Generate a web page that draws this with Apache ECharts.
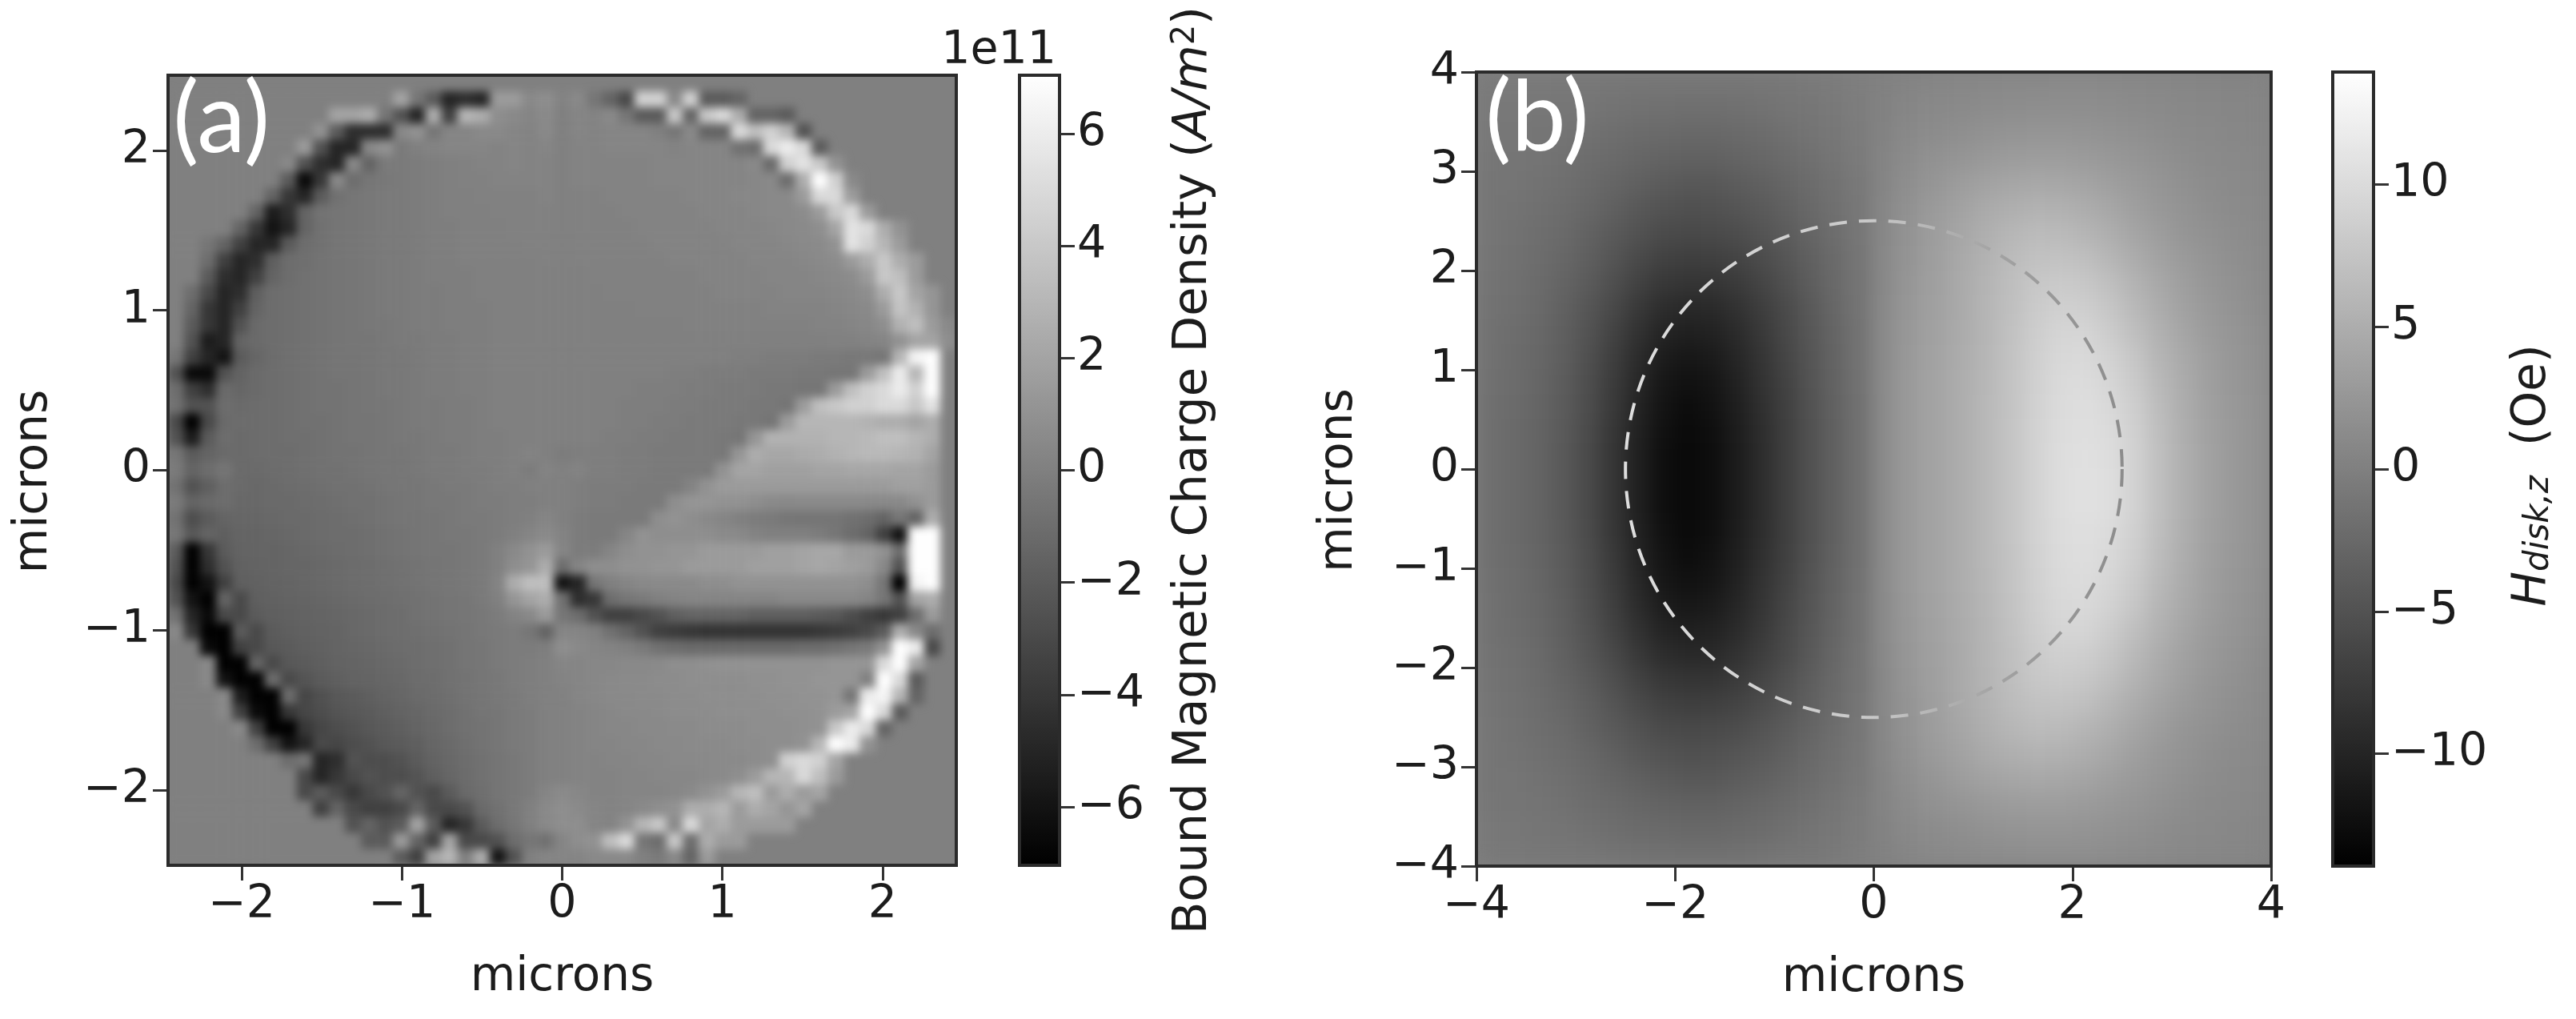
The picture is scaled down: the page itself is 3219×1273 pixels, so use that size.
<!DOCTYPE html>
<html>
<head>
<meta charset="utf-8">
<script src="https://cdn.jsdelivr.net/npm/echarts@6/dist/echarts.min.js"></script>
<style>
  html, body { margin: 0; background: #fff; }
  #page { position: relative; width: 3219px; height: 1273px; overflow: hidden; }
  .plot { position: absolute; overflow: hidden; background: #808080; }
  .plot > div { width: 100%; height: 100%; }
  #plotA { left: 210px; top: 94px; width: 985px; height: 987px; }
  #plotA > div { filter: blur(5.5px); }
  #plotB { left: 1845px; top: 90px; width: 993px; height: 992px; }
  #plotB > div { filter: blur(11px); }
  #overlay { position: absolute; left: 0; top: 0; width: 3219px; height: 1273px; filter: blur(0.7px); }
</style>
</head>
<body>
<div id="page">
  <div class="plot" id="plotA"><div id="heatA"></div></div>
  <div class="plot" id="plotB"><div id="heatB"></div></div>
  <div id="overlay"></div>
</div>
<script>
// panel (a): charge density, in 1e10 A/m2, row 0 at the top, cells 0.1 micron
const rowsA = [
[],
[0,0,0,0,0,0,0,0,0,0,0,0,0,0,20,-5,-20,-50,-45,-50,15,15,5,8,2,5,-5,-15,-30,45,45,5,45,-20,-20,-15],
[0,0,0,0,0,0,0,0,0,0,20,20,25,-5,-25,-50,25,-35,30,25,8,5,3,6,0,3,2,5,-5,-20,-20,40,-15,40,50,25,-15,-15,-20],
[0,0,0,0,0,0,0,0,0,10,-20,-45,-45,-45,5,10,-5,3,3,5,5,3,2,5,0,3,2,3,3,3,0,-5,5,-15,-15,50,35,45,30,-25],
[0,0,0,0,0,0,0,0,15,-25,-50,-50,5,10,-3,0,2,3,3,3,2,3,2,3,0,2,2,3,3,3,3,2,3,3,3,-8,-10,50,60,50,-20],
[0,0,0,0,0,0,0,5,-25,-45,-50,5,-15,-3,-3,-2,-1,0,1,2,2,3,2,2,0,2,2,2,2,2,3,3,3,3,3,3,5,-12,45,55,40,10],
[0,0,0,0,0,0,0,-20,-65,-40,5,-10,-5,-4,-3,-2,-1,0,1,1,2,2,2,2,0,2,2,2,2,2,3,3,3,3,3,3,4,5,-10,25,70,45,5],
[0,0,0,0,0,0,-15,-40,-50,-20,-8,-5,-4,-3,-3,-2,-1,0,0,1,1,1,1,2,0,1,1,2,2,2,2,2,3,3,3,4,4,5,5,15,50,50,15],
[0,0,0,0,0,-15,-55,-45,-15,-7,-6,-5,-4,-3,-3,-2,-1,0,0,0,1,1,1,1,0,1,1,1,2,2,2,2,2,3,3,3,4,5,5,7,15,40,50,15],
[0,0,0,0,-15,-40,-60,-50,-15,-8,-6,-5,-4,-3,-3,-2,-1,-1,0,0,0,1,1,1,0,1,1,1,1,2,2,2,2,2,3,3,3,4,5,6,8,20,55,50,25,10],
[0,0,-5,-15,-35,-50,-50,-20,-10,-8,-6,-5,-4,-3,-3,-2,-1,-1,0,0,0,0,1,1,0,1,1,1,1,1,2,2,2,2,2,3,3,3,4,5,6,10,55,45,30,15],
[0,0,-10,-35,-50,-45,-18,-10,-9,-7,-6,-5,-4,-3,-3,-2,-1,-1,0,0,0,0,0,1,0,1,1,1,1,1,1,2,2,2,2,2,3,3,3,4,5,7,15,25,40,25,15],
[0,0,-20,-45,-50,-35,-15,-10,-8,-7,-6,-5,-4,-3,-3,-2,-1,-1,-1,0,0,0,0,0,0,0,1,1,1,1,1,1,1,2,2,2,2,3,3,3,4,5,7,15,40,35,15],
[0,-10,-30,-50,-45,-18,-10,-9,-8,-7,-6,-5,-4,-3,-3,-2,-2,-1,-1,0,0,0,0,0,0,0,0,1,1,1,1,1,1,1,2,2,2,2,3,3,3,4,5,8,25,40,20,12],
[0,-15,-40,-50,-35,-15,-10,-9,-8,-7,-6,-5,-4,-3,-3,-2,-2,-1,-1,-1,0,0,0,0,0,0,0,0,0,1,1,1,1,1,1,1,1,2,2,2,2,3,4,5,15,38,28,12],
[0,-20,-40,-50,-25,-12,-10,-9,-8,-7,-6,-5,-4,-4,-3,-2,-2,-1,-1,-1,0,0,0,0,0,0,0,0,0,0,0,0,1,1,1,1,1,1,1,1,2,2,3,4,8,28,35,15,5],
[0,-25,-55,-50,-15,-12,-10,-9,-8,-7,-6,-5,-5,-4,-3,-3,-2,-2,-1,-1,0,0,0,0,0,0,0,0,0,0,0,0,0,0,0,0,0,0,0,0,0,1,1,2,3,10,20,20,8],
[-5,-35,-50,-60,-20,-14,-11,-9,-8,-7,-6,-6,-5,-4,-4,-3,-2,-2,-1,-1,0,0,0,0,0,0,0,0,0,0,0,0,0,0,0,-1,-1,-2,-2,-2,-3,-3,-4,-4,-5,30,65,70],
[-25,-65,-65,-25,-16,-12,-10,-9,-8,-7,-6,-6,-5,-4,-4,-3,-2,-2,-1,-1,0,0,0,0,0,0,0,0,0,0,0,-1,-1,-2,-2,-2,-3,-3,-3,-4,-4,-5,-5,15,35,60,30,70],
[-10,-35,-45,-12,-14,-12,-10,-9,-8,-7,-7,-6,-5,-4,-4,-3,-2,-2,-1,-1,0,0,0,0,0,0,0,0,0,-1,-1,-1,-2,-2,-3,-3,-3,-4,-4,-5,-5,15,35,45,50,60,45,70],
[-8,-25,-25,-10,-12,-11,-10,-9,-8,-7,-7,-6,-5,-5,-4,-3,-3,-2,-2,-1,0,0,0,0,0,0,0,0,-1,-1,-1,-2,-2,-3,-3,-3,-4,-4,-6,15,35,40,45,45,50,50,40,55],
[-30,-70,-30,-12,-11,-11,-10,-9,-8,-8,-7,-6,-6,-5,-4,-3,-3,-2,-2,-1,0,0,0,0,0,0,0,0,-1,-1,-2,-2,-3,-3,-3,-4,-4,-6,15,30,30,30,30,28,25,25,20,25],
[-25,-55,-20,-10,-12,-11,-10,-9,-9,-8,-7,-6,-6,-5,-4,-4,-3,-2,-2,-1,-1,0,0,0,0,0,0,-1,-1,-2,-2,-3,-3,-3,-4,-5,12,28,28,28,28,30,30,32,35,35,30,25],
[-5,-20,-15,-12,-12,-11,-10,-10,-9,-8,-7,-7,-6,-5,-5,-4,-3,-3,-2,-1,-1,0,2,0,-2,-1,-1,-1,-2,-2,-3,-3,-3,-3,-4,12,25,22,22,24,25,28,30,32,32,30,28,20],
[-3,-15,-10,-6,-12,-12,-11,-10,-9,-8,-8,-7,-6,-5,-5,-4,-3,-3,-2,-2,-1,0,-2,2,0,2,-1,-1,-2,-2,-3,-3,-3,-3,10,20,20,18,18,18,20,20,22,22,22,20,20,15],
[-8,-25,-18,-10,-12,-13,-12,-11,-10,-9,-8,-8,-7,-6,-5,-5,-4,-3,-3,-2,-1,-1,0,0,0,-1,-2,-2,-2,-3,-3,-3,2,10,15,15,15,15,15,15,15,15,15,15,15,18,18,15],
[-3,-15,-12,-10,-13,-13,-12,-12,-11,-10,-9,-8,-8,-7,-6,-5,-4,-4,-3,-2,-2,-1,-1,0,0,-1,-2,-2,-3,-3,-3,8,12,12,10,10,8,6,5,6,6,6,6,5,5,5,10,15],
[-8,-28,-20,-15,-14,-14,-13,-12,-12,-11,-10,-9,-8,-7,-6,-6,-5,-4,-3,-3,-2,-1,0,3,0,-2,-3,-3,-3,-3,8,10,8,5,3,0,-2,-3,-5,-6,-6,-6,-8,-10,-15,-5,-15,25],
[-5,-22,-15,-18,-15,-15,-14,-13,-12,-11,-10,-10,-9,-8,-7,-6,-5,-4,-4,-3,-2,0,3,6,2,-2,-3,-3,3,10,8,8,8,8,6,5,2,0,0,0,-2,-5,-10,-15,-35,-60,70,70],
[-20,-70,-40,-20,-16,-15,-15,-14,-13,-12,-11,-10,-9,-8,-7,-6,-5,-5,-4,-3,0,5,10,15,3,-2,-2,3,8,10,10,12,12,15,15,15,15,18,18,20,22,22,15,15,10,-10,70,70],
[-25,-70,-45,-25,-17,-16,-15,-14,-14,-13,-12,-11,-10,-9,-8,-7,-6,-5,-4,-3,0,8,12,25,-10,3,8,8,10,10,12,12,15,15,15,15,18,18,18,20,22,20,18,15,5,-25,70,70],
[-30,-70,-60,-35,-18,-17,-16,-15,-14,-13,-12,-11,-10,-9,-8,-7,-6,-5,-4,-3,2,25,35,35,-60,-50,-5,0,3,5,6,6,6,8,8,10,10,10,10,10,10,10,10,8,-5,-70,65,70],
[-25,-60,-70,-15,-30,-18,-17,-16,-15,-14,-13,-12,-11,-10,-9,-8,-7,-6,-5,-3,0,12,20,25,-8,-45,-40,-10,-5,-3,0,2,3,3,3,3,3,3,5,5,5,5,5,3,-5,-25,20,25],
[-8,-50,-65,-30,-30,-20,-18,-17,-16,-15,-14,-13,-12,-11,-10,-8,-7,-6,-5,-4,-2,2,5,15,-5,-10,-25,-35,-35,-30,-25,-18,-15,-15,-15,-15,-18,-18,-18,-18,-20,-22,-28,-35,-40,-35,-10,15],
[5,-40,-70,-70,-20,-30,-20,-18,-17,-16,-15,-13,-12,-11,-10,-9,-8,-7,-6,-4,-3,-2,-5,-15,3,3,0,-8,-15,-25,-35,-38,-40,-42,-42,-42,-42,-42,-42,-42,-40,-38,-35,-30,-20,25,5,-10],
[0,0,-65,-70,-35,-30,-22,-20,-18,-17,-15,-14,-13,-12,-11,-10,-9,-8,-6,-5,-3,-2,-2,-1,8,5,3,2,0,-3,-8,-10,-12,-12,-12,-12,-12,-12,-12,-10,-10,-8,-5,-3,10,70,60,-30],
[0,0,5,-70,-70,-15,-30,-22,-20,-18,-16,-15,-14,-13,-12,-10,-9,-8,-6,-5,-3,-2,-1,0,3,3,4,4,5,5,6,8,8,9,10,10,10,10,10,10,10,12,12,12,50,70,20],
[0,0,5,-60,-70,-70,-10,-30,-24,-20,-18,-16,-15,-14,-13,-11,-10,-8,-7,-5,-4,-2,-1,0,2,3,4,5,6,6,7,7,8,8,8,8,9,9,10,10,12,12,12,0,70,50,-20],
[0,0,0,5,-55,-70,-70,-10,-32,-26,-22,-20,-18,-16,-14,-12,-11,-9,-7,-6,-4,-3,-1,0,1,3,4,5,5,6,6,7,7,8,8,8,8,9,9,10,10,12,-5,60,65,30,-15],
[0,0,0,5,-35,-65,-70,-40,-32,-28,-24,-22,-20,-18,-16,-14,-12,-10,-8,-6,-5,-3,-2,0,1,2,3,4,5,5,6,7,7,7,8,8,8,8,9,9,10,15,20,70,50,-20],
[0,0,0,0,5,-35,-70,-70,-40,-32,-28,-25,-22,-20,-18,-15,-13,-10,-8,-7,-5,-3,-2,0,1,2,3,4,4,5,5,6,6,7,7,7,8,8,8,9,10,40,60,50,-15],
[0,0,0,0,0,-10,-35,-60,-50,-30,-32,-28,-25,-22,-20,-18,-14,-12,-9,-7,-5,-3,-2,0,1,2,3,3,4,4,5,5,6,6,6,7,7,8,8,10,30,70,60,10],
[0,0,0,0,0,0,0,-10,-5,-50,-45,-25,-28,-28,-25,-20,-16,-13,-10,-8,-6,-4,-2,0,1,2,2,3,3,4,4,5,5,5,6,6,7,8,45,50,45,20],
[0,0,0,0,0,0,0,0,-30,-50,-40,-30,-25,-28,-28,-24,-18,-14,-11,-8,-6,-4,-2,0,1,2,2,2,3,3,4,4,4,5,6,8,15,30,30,50,35,15],
[0,0,0,0,0,0,0,0,-30,-20,-30,-40,-30,-25,-15,-25,-30,-20,-12,-9,-6,-4,-2,3,6,4,2,2,3,3,3,4,6,10,15,30,35,15,25,15,20],
[0,0,0,0,0,0,0,0,0,-35,-15,-30,-35,-35,-30,-15,-30,-30,-25,-12,-8,-4,0,5,8,6,3,2,3,5,8,10,25,25,30,15,25,20,12,20],
[0,0,0,0,0,0,0,0,0,0,0,-25,-15,-25,-20,20,-20,-50,-40,-20,-10,-5,0,5,8,8,3,2,10,30,40,5,50,20,25,15,15,15,15],
[0,0,0,0,0,0,0,0,0,0,0,0,-20,-20,15,-15,-35,20,-30,-30,-25,-10,-5,-8,3,8,10,35,50,-5,-10,40,-10,25,15,15],
[0,0,0,0,0,0,0,0,0,0,0,0,0,0,-20,-35,20,30,0,25,-60,-25,0,3,3,3,5,5,5,0,-3,5,-15,15]
];
const limitA = 70.4;

// panel (b): disk field in Oe, row 0 at the top, cells 0.25 micron
const rowsB = [
[-.6,-.6,-.7,-.8,-.9,-1,-1.1,-1.2,-1.2,-1.2,-1.1,-1,-.9,-.7,-.5,-.2,.2,.5,.7,.8,.9,1,1,1.1,1.1,1,.9,.8,.7,.6,.5,.5],
[-.7,-.8,-.9,-1,-1.2,-1.4,-1.6,-1.7,-1.8,-1.8,-1.7,-1.5,-1.2,-1,-.7,-.3,.3,.7,1,1.2,1.4,1.5,1.6,1.6,1.6,1.5,1.3,1.1,.9,.8,.7,.6],
[-.8,-.9,-1.1,-1.3,-1.6,-1.9,-2.2,-2.4,-2.6,-2.6,-2.4,-2.1,-1.7,-1.3,-.9,-.4,.4,1,1.4,1.7,2,2.2,2.3,2.3,2.2,2,1.8,1.5,1.2,1,.8,.7],
[-1,-1.1,-1.3,-1.6,-2,-2.4,-2.8,-3.1,-3.3,-3.3,-3,-2.7,-2.2,-1.7,-1.2,-.5,.6,1.4,2,2.4,2.8,3.1,3.2,3.2,3,2.7,2.3,1.9,1.5,1.2,1,.8],
[-1.1,-1.2,-1.5,-1.8,-2.3,-2.9,-3.5,-4,-4.3,-4.3,-3.9,-3.4,-2.8,-2.1,-1.5,-.7,.7,1.7,2.5,3.2,3.8,4.2,4.4,4.3,4,3.5,2.9,2.3,1.8,1.4,1.1,.9],
[-1.2,-1.4,-1.7,-2.1,-2.7,-3.5,-4.3,-4.9,-5.2,-5.1,-4.7,-4.1,-3.3,-2.5,-1.7,-.8,.9,2,3,3.8,4.6,5.2,5.5,5.4,5,4.3,3.5,2.7,2.1,1.6,1.3,1],
[-1.2,-1.5,-1.9,-2.4,-3.2,-4.1,-5,-5.7,-6,-5.9,-5.5,-4.8,-3.9,-2.9,-1.9,-.9,1,2.2,3.3,4.2,5.2,6,6.5,6.4,5.9,5.1,4.1,3.2,2.4,1.9,1.5,1.2],
[-1.3,-1.6,-2,-2.7,-3.6,-4.7,-5.9,-6.7,-7.1,-7,-6.5,-5.6,-4.5,-3.3,-2.2,-1,1.1,2.4,3.5,4.5,5.5,6.5,7.2,7.3,6.9,6,4.9,3.8,2.9,2.2,1.7,1.3],
[-1.4,-1.7,-2.2,-3,-4,-5.3,-6.7,-7.8,-8.2,-8.1,-7.5,-6.4,-5.1,-3.7,-2.4,-1.1,1.2,2.6,3.6,4.6,5.7,6.8,7.8,8.1,7.8,6.9,5.6,4.4,3.3,2.5,1.9,1.4],
[-1.5,-1.8,-2.4,-3.3,-4.5,-6,-7.7,-9,-9.5,-9.3,-8.5,-7.2,-5.7,-4.1,-2.6,-1.2,1.3,2.7,3.7,4.7,5.8,7,8.2,8.8,8.6,7.7,6.3,4.9,3.7,2.8,2.1,1.5],
[-1.6,-2,-2.6,-3.6,-4.9,-6.6,-8.5,-10,-10.5,-10.2,-9.2,-7.7,-6,-4.3,-2.8,-1.3,1.4,2.8,3.8,4.8,5.9,7.2,8.5,9.3,9.3,8.4,7,5.4,4.1,3,2.3,1.7],
[-1.6,-2.1,-2.7,-3.7,-5.2,-7.1,-9.1,-10.8,-11.4,-11,-9.8,-8.1,-6.3,-4.5,-2.9,-1.3,1.4,2.9,3.9,4.9,6,7.3,8.7,9.7,9.8,9,7.7,5.9,4.5,3.3,2.5,1.8],
[-1.7,-2.1,-2.8,-3.9,-5.4,-7.4,-9.6,-11.4,-12.1,-11.6,-10.2,-8.4,-6.6,-4.7,-3,-1.4,1.5,3,4,5,6.1,7.4,8.8,9.9,10.1,9.5,8.2,6.3,4.8,3.5,2.6,1.9],
[-1.8,-2.2,-2.9,-4,-5.5,-7.6,-10,-11.8,-12.6,-12,-10.6,-8.7,-6.8,-4.9,-3.1,-1.5,1.5,3,4,5,6.2,7.4,8.9,10,10.3,9.8,8.6,6.6,5,3.6,2.7,2],
[-1.8,-2.3,-3,-4.1,-5.7,-7.9,-10.2,-12.1,-12.9,-12.3,-10.8,-8.9,-6.9,-5,-3.2,-1.5,1.5,3,4,5,6.2,7.5,9,10.1,10.5,10,8.8,6.8,5.1,3.7,2.8,2],
[-1.8,-2.3,-3,-4.2,-5.8,-8,-10.4,-12.3,-13,-12.4,-10.9,-9,-7,-5,-3.2,-1.5,1.5,3,4,5,6.2,7.5,9,10.2,10.6,10.2,9,7,5.2,3.8,2.8,2],
[-1.8,-2.3,-3,-4.2,-5.8,-8,-10.4,-12.3,-13,-12.4,-10.9,-9,-7,-5,-3.2,-1.5,1.5,3,4,5,6.2,7.5,9,10.2,10.7,10.3,9,7,5.2,3.8,2.8,2],
[-1.8,-2.3,-3,-4.2,-5.8,-8,-10.4,-12.3,-13,-12.4,-10.9,-9,-7,-5,-3.2,-1.5,1.5,3,4,5,6.2,7.5,9,10.2,10.7,10.3,9,7,5.2,3.8,2.8,2],
[-1.8,-2.3,-3,-4.1,-5.7,-7.9,-10.2,-12.1,-12.9,-12.3,-10.8,-8.9,-6.9,-5,-3.2,-1.5,1.5,3,4,5,6.2,7.5,9,10.1,10.5,10,8.8,6.8,5.1,3.7,2.8,2],
[-1.8,-2.2,-2.9,-4,-5.5,-7.6,-10,-11.8,-12.6,-12,-10.6,-8.7,-6.8,-4.9,-3.1,-1.5,1.5,3,4,5,6.2,7.4,8.9,10,10.3,9.8,8.6,6.6,5,3.6,2.7,2],
[-1.7,-2.1,-2.8,-3.9,-5.4,-7.4,-9.6,-11.4,-12.1,-11.6,-10.2,-8.4,-6.6,-4.7,-3,-1.4,1.5,3,4,5,6.1,7.4,8.8,9.9,10.1,9.5,8.2,6.3,4.8,3.5,2.6,1.9],
[-1.6,-2.1,-2.7,-3.7,-5.2,-7.1,-9.1,-10.8,-11.4,-11,-9.8,-8.1,-6.3,-4.5,-2.9,-1.3,1.4,2.9,3.9,4.9,6,7.3,8.7,9.7,9.8,9,7.7,5.9,4.5,3.3,2.5,1.8],
[-1.6,-2,-2.6,-3.6,-4.9,-6.6,-8.5,-10,-10.5,-10.2,-9.2,-7.7,-6,-4.3,-2.8,-1.3,1.4,2.8,3.8,4.8,5.9,7.2,8.5,9.3,9.3,8.4,7,5.4,4.1,3,2.3,1.7],
[-1.5,-1.8,-2.4,-3.3,-4.5,-6,-7.7,-9,-9.5,-9.3,-8.5,-7.2,-5.7,-4.1,-2.6,-1.2,1.3,2.7,3.7,4.7,5.8,7,8.2,8.8,8.6,7.7,6.3,4.9,3.7,2.8,2.1,1.5],
[-1.4,-1.7,-2.2,-3,-4,-5.3,-6.7,-7.8,-8.2,-8.1,-7.5,-6.4,-5.1,-3.7,-2.4,-1.1,1.2,2.6,3.6,4.6,5.7,6.8,7.8,8.1,7.8,6.9,5.6,4.4,3.3,2.5,1.9,1.4],
[-1.3,-1.6,-2,-2.7,-3.6,-4.7,-5.9,-6.7,-7.1,-7,-6.5,-5.6,-4.5,-3.3,-2.2,-1,1.1,2.4,3.5,4.5,5.5,6.5,7.2,7.3,6.9,6,4.9,3.8,2.9,2.2,1.7,1.3],
[-1.2,-1.5,-1.9,-2.4,-3.2,-4.1,-5,-5.7,-6,-5.9,-5.5,-4.8,-3.9,-2.9,-1.9,-.9,1,2.2,3.3,4.2,5.2,6,6.5,6.4,5.9,5.1,4.1,3.2,2.4,1.9,1.5,1.2],
[-1.2,-1.4,-1.7,-2.1,-2.7,-3.5,-4.3,-4.9,-5.2,-5.1,-4.7,-4.1,-3.3,-2.5,-1.7,-.8,.9,2,3,3.8,4.6,5.2,5.5,5.4,5,4.3,3.5,2.7,2.1,1.6,1.3,1],
[-1.1,-1.2,-1.5,-1.8,-2.3,-2.9,-3.5,-4,-4.3,-4.3,-3.9,-3.4,-2.8,-2.1,-1.5,-.7,.7,1.7,2.5,3.2,3.8,4.2,4.4,4.3,4,3.5,2.9,2.3,1.8,1.4,1.1,.9],
[-1,-1.1,-1.3,-1.6,-2,-2.4,-2.8,-3.1,-3.3,-3.3,-3,-2.7,-2.2,-1.7,-1.2,-.5,.6,1.4,2,2.4,2.8,3.1,3.2,3.2,3,2.7,2.3,1.9,1.5,1.2,1,.8],
[-.8,-.9,-1.1,-1.3,-1.6,-1.9,-2.2,-2.4,-2.6,-2.6,-2.4,-2.1,-1.7,-1.3,-.9,-.4,.4,1,1.4,1.7,2,2.2,2.3,2.3,2.2,2,1.8,1.5,1.2,1,.8,.7],
[-.7,-.8,-.9,-1,-1.2,-1.4,-1.6,-1.7,-1.8,-1.8,-1.7,-1.5,-1.2,-1,-.7,-.3,.3,.7,1,1.2,1.4,1.5,1.6,1.6,1.6,1.5,1.3,1.1,.9,.8,.7,.6]
];
const limitB = 13.95;

const ticksXA = [-2, -1, 0, 1, 2];
const ticksYA = [-2, -1, 0, 1, 2];
const ticksCbarA = [-6, -4, -2, 0, 2, 4, 6];
const ticksXB = [-4, -2, 0, 2, 4];
const ticksYB = [-4, -3, -2, -1, 0, 1, 2, 3, 4];
const ticksCbarB = [-10, -5, 0, 5, 10];
const diskB = [[0, 0, 2.5]]; // dashed outline of the disk: x, y, radius

const FONT = '"DejaVu Sans"';
const INK = '#1c1c1c';
const minus = v => String(v).replace('-', '\u2212');

// one gray heatmap filling its blurred div, category axes stay hidden
function drawHeat(id, rows, limit, cols) {
  const data = [];
  rows.forEach((row, j) => row.forEach((v, i) => data.push([i, j, v])));
  const axis = n => ({
    type: 'category', show: false,
    data: Array.from({ length: n }, (_, k) => k)
  });
  const chart = echarts.init(document.getElementById(id));
  chart.setOption({
    animation: false,
    grid: { left: 0, right: 0, top: 0, bottom: 0 },
    xAxis: axis(cols),
    yAxis: Object.assign(axis(rows.length), { inverse: true }),
    visualMap: { show: false, min: -limit, max: limit, inRange: { color: ['#000000', '#ffffff'] } },
    series: [{ type: 'heatmap', data: data, progressive: 0 }]
  });
}
drawHeat('heatA', rowsA, limitA, 49);
drawHeat('heatB', rowsB, limitB, 32);

function valueAxis(gridIndex, range, ticks, name, extra, labelPad) {
  return Object.assign({
    type: 'value', gridIndex: gridIndex, min: -range, max: range,
    splitLine: { show: false },
    axisLine: { show: false, onZero: false },
    axisTick: { length: 19, lineStyle: { color: '#333', width: 3 }, customValues: ticks },
    axisLabel: {
      fontFamily: FONT, fontSize: 57, color: INK, margin: 22, formatter: minus,
      customValues: ticks, padding: labelPad || 0
    },
    name: name, nameLocation: 'middle',
    nameTextStyle: { fontFamily: FONT, fontSize: 58, color: INK }
  }, extra);
}
const hiddenX = (gridIndex) => ({ type: 'value', gridIndex: gridIndex, min: 0, max: 1, show: false });
const frame = { show: true, z: 10, backgroundColor: 'transparent', borderColor: '#2b2b2b', borderWidth: 4 };
const cbarMap = (limit, left, top, w, h, seriesIndex) => ({
  type: 'continuous', min: -limit, max: limit, seriesIndex: seriesIndex, calculable: false,
  left: left, top: top, itemWidth: w, itemHeight: h, padding: 0, hoverLink: false,
  inRange: { color: ['#000000', '#ffffff'] }
});
const yPad = [16, 0, 0, 0];
// rotated side label, pushed a little below the middle of its axis
const sideName = { fontFamily: FONT, fontSize: 58, color: INK, padding: [0, 28, 0, 0] };

const overlay = echarts.init(document.getElementById('overlay'));
overlay.setOption({
  animation: false,
  grid: [
    Object.assign({ left: 210, top: 94, width: 985, height: 987 }, frame),
    Object.assign({ left: 1274, top: 94, width: 50, height: 987 }, frame),
    Object.assign({ left: 1845, top: 90, width: 993, height: 992 }, frame),
    Object.assign({ left: 2915, top: 90, width: 51, height: 992 }, frame)
  ],
  xAxis: [
    valueAxis(0, 2.46, ticksXA, 'microns', { nameGap: 112 }),
    hiddenX(1),
    valueAxis(2, 4, ticksXB, 'microns', { nameGap: 112 }),
    hiddenX(3)
  ],
  yAxis: [
    valueAxis(0, 2.47, ticksYA, 'microns', { nameGap: 138, nameRotate: 90, nameTextStyle: sideName }, yPad),
    valueAxis(1, 7.04, ticksCbarA, '{t|Bound Magnetic Charge Density (}{i|A/m}{s|2}{t|)}', {
      position: 'right', nameGap: 138, nameRotate: 90,
      nameTextStyle: {
        rich: {
          t: { fontFamily: FONT, fontSize: 59, color: INK },
          i: { fontFamily: FONT, fontSize: 59, fontStyle: 'italic', color: INK },
          s: { fontFamily: FONT, fontSize: 40, color: INK, verticalAlign: 'top' }
        }
      }
    }, yPad),
    valueAxis(2, 4, ticksYB, 'microns', { nameGap: 142, nameRotate: 90, nameTextStyle: sideName }, yPad),
    valueAxis(3, 13.95, ticksCbarB, '{i|H}{b|disk,z}{t|  (Oe)}', {
      position: 'right', nameGap: 170, nameRotate: 90,
      nameTextStyle: {
        padding: [0, 16, 0, 0],
        rich: {
          t: { fontFamily: FONT, fontSize: 58, color: INK },
          i: { fontFamily: FONT, fontSize: 58, fontStyle: 'italic', color: INK },
          b: { fontFamily: FONT, fontSize: 42, fontStyle: 'italic', color: INK, verticalAlign: 'bottom' }
        }
      }
    }, yPad)
  ],
  visualMap: [
    cbarMap(7.04, 1274, 94, 50, 987, 0),
    cbarMap(13.95, 2915, 90, 51, 992, 1)
  ],
  series: [
    { type: 'scatter', xAxisIndex: 1, yAxisIndex: 1, data: [] },
    { type: 'scatter', xAxisIndex: 3, yAxisIndex: 3, data: [] },
    {
      type: 'custom', xAxisIndex: 2, yAxisIndex: 2, data: diskB, silent: true, z: 5,
      renderItem: (params, api) => {
        const c = api.coord([api.value(0), api.value(1)]);
        return {
          type: 'circle',
          shape: { cx: c[0], cy: c[1], r: api.size([api.value(2), 0])[0] },
          style: {
            fill: 'none', lineWidth: 4, lineDash: [22, 15],
            stroke: new echarts.graphic.LinearGradient(0, 0, 1, 0, [
              { offset: 0, color: '#dedede' },
              { offset: 0.5, color: '#c8c8c8' },
              { offset: 0.65, color: '#b0b0b0' },
              { offset: 0.75, color: '#a2a2a2' },
              { offset: 1, color: '#8c8c8c' }
            ])
          }
        };
      }
    }
  ],
  graphic: [
    { type: 'text', left: 216, top: 90, z: 20, style: { text: '(a)', fontFamily: 'Lato', fontSize: 122, fill: '#fff' } },
    { type: 'text', left: 1856, top: 88, z: 20, style: { text: '(b)', fontFamily: 'Lato', fontSize: 122, fill: '#fff' } },
    { type: 'text', right: 1899, top: 36, z: 20, style: { text: '1e11', fontFamily: FONT, fontSize: 57, fill: INK } }
  ]
});
</script>
</body>
</html>
